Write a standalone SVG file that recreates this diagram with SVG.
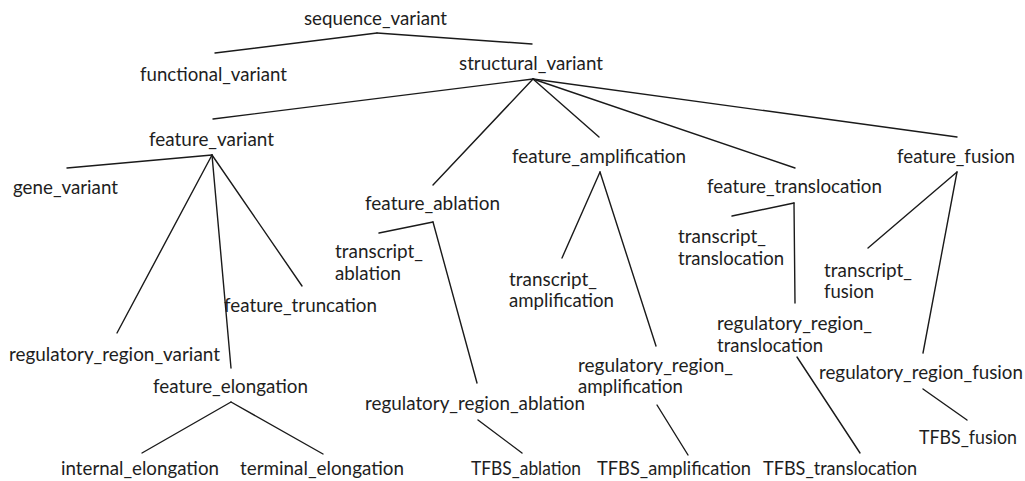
<svg xmlns="http://www.w3.org/2000/svg" width="1025" height="481" viewBox="0 0 1025 481">
<style>
text { font-family: Lato, "Open Sans", "Liberation Sans", sans-serif; font-size: 18.5px; fill: #1e1e1e; }
.edges line { stroke: #1a1a1a; stroke-width: 1.4; stroke-linecap: round; }
</style>
<rect width="1025" height="481" fill="#ffffff"/>
<g class="edges" id="connectors">
<line x1="377" y1="33" x2="215" y2="53"/>
<line x1="377" y1="33" x2="532" y2="44"/>
<line x1="533" y1="79" x2="213" y2="119"/>
<line x1="533" y1="79" x2="433" y2="185"/>
<line x1="533" y1="79" x2="599" y2="137"/>
<line x1="533" y1="79" x2="795" y2="168"/>
<line x1="533" y1="79" x2="957" y2="137"/>
<line x1="212" y1="155" x2="67" y2="168"/>
<line x1="212" y1="155" x2="117" y2="333"/>
<line x1="212" y1="155" x2="231" y2="368"/>
<line x1="212" y1="155" x2="302" y2="286"/>
<line x1="231" y1="402" x2="142" y2="453"/>
<line x1="231" y1="402" x2="323" y2="454"/>
<line x1="433" y1="222" x2="379" y2="233"/>
<line x1="433" y1="222" x2="477" y2="383"/>
<line x1="478" y1="420" x2="522" y2="453"/>
<line x1="600" y1="172" x2="562" y2="258"/>
<line x1="600" y1="172" x2="656" y2="346"/>
<line x1="657" y1="405" x2="688" y2="455"/>
<line x1="794" y1="203" x2="732" y2="216"/>
<line x1="794" y1="203" x2="795" y2="303"/>
<line x1="797" y1="357" x2="860" y2="453"/>
<line x1="957" y1="172" x2="868" y2="248"/>
<line x1="957" y1="172" x2="923" y2="353"/>
<line x1="923" y1="389" x2="967" y2="420"/>
</g>
<g id="sequence_variant"><text x="304" y="25" textLength="143" lengthAdjust="spacingAndGlyphs">sequence_variant</text></g>
<g id="functional_variant"><text x="140" y="81" textLength="147" lengthAdjust="spacingAndGlyphs">functional_variant</text></g>
<g id="structural_variant"><text x="459" y="70" textLength="144" lengthAdjust="spacingAndGlyphs">structural_variant</text></g>
<g id="feature_variant"><text x="149" y="146" textLength="125" lengthAdjust="spacingAndGlyphs">feature_variant</text></g>
<g id="gene_variant"><text x="13" y="194" textLength="105" lengthAdjust="spacingAndGlyphs">gene_variant</text></g>
<g id="feature_amplification"><text x="512" y="163" textLength="174" lengthAdjust="spacingAndGlyphs">feature_amplification</text></g>
<g id="feature_fusion"><text x="897" y="163" textLength="118" lengthAdjust="spacingAndGlyphs">feature_fusion</text></g>
<g id="feature_translocation"><text x="707" y="193" textLength="175" lengthAdjust="spacingAndGlyphs">feature_translocation</text></g>
<g id="feature_ablation"><text x="365" y="210" textLength="135" lengthAdjust="spacingAndGlyphs">feature_ablation</text></g>
<g id="transcript_ablation"><text x="335" y="258"><tspan x="335" textLength="88" lengthAdjust="spacingAndGlyphs">transcript_</tspan><tspan x="335" y="280" textLength="66" lengthAdjust="spacingAndGlyphs">ablation</tspan></text></g>
<g id="feature_truncation"><text x="224" y="312" textLength="153" lengthAdjust="spacingAndGlyphs">feature_truncation</text></g>
<g id="transcript_amplification"><text x="509" y="286"><tspan x="509" textLength="88" lengthAdjust="spacingAndGlyphs">transcript_</tspan><tspan x="509" y="307" textLength="105" lengthAdjust="spacingAndGlyphs">amplification</tspan></text></g>
<g id="transcript_translocation"><text x="678" y="243"><tspan x="678" textLength="88" lengthAdjust="spacingAndGlyphs">transcript_</tspan><tspan x="678" y="265" textLength="106" lengthAdjust="spacingAndGlyphs">translocation</tspan></text></g>
<g id="transcript_fusion"><text x="824" y="277"><tspan x="824" textLength="88" lengthAdjust="spacingAndGlyphs">transcript_</tspan><tspan x="824" y="298" textLength="50" lengthAdjust="spacingAndGlyphs">fusion</tspan></text></g>
<g id="regulatory_region_translocation"><text x="717" y="330"><tspan x="717" textLength="155" lengthAdjust="spacingAndGlyphs">regulatory_region_</tspan><tspan x="717" y="352" textLength="106" lengthAdjust="spacingAndGlyphs">translocation</tspan></text></g>
<g id="regulatory_region_variant"><text x="9" y="361" textLength="211" lengthAdjust="spacingAndGlyphs">regulatory_region_variant</text></g>
<g id="regulatory_region_amplification"><text x="578" y="372"><tspan x="578" textLength="155" lengthAdjust="spacingAndGlyphs">regulatory_region_</tspan><tspan x="578" y="393" textLength="105" lengthAdjust="spacingAndGlyphs">amplification</tspan></text></g>
<g id="regulatory_region_fusion"><text x="819" y="379" textLength="204" lengthAdjust="spacingAndGlyphs">regulatory_region_fusion</text></g>
<g id="feature_elongation"><text x="153" y="393" textLength="155" lengthAdjust="spacingAndGlyphs">feature_elongation</text></g>
<g id="regulatory_region_ablation"><text x="365" y="410" textLength="220" lengthAdjust="spacingAndGlyphs">regulatory_region_ablation</text></g>
<g id="TFBS_fusion"><text x="919" y="444" textLength="98" lengthAdjust="spacingAndGlyphs">TFBS_fusion</text></g>
<g id="internal_elongation"><text x="61" y="475" textLength="158" lengthAdjust="spacingAndGlyphs">internal_elongation</text></g>
<g id="terminal_elongation"><text x="240" y="475" textLength="164" lengthAdjust="spacingAndGlyphs">terminal_elongation</text></g>
<g id="TFBS_ablation"><text x="471" y="475" textLength="110" lengthAdjust="spacingAndGlyphs">TFBS_ablation</text></g>
<g id="TFBS_amplification"><text x="597" y="475" textLength="154" lengthAdjust="spacingAndGlyphs">TFBS_amplification</text></g>
<g id="TFBS_translocation"><text x="763" y="475" textLength="154" lengthAdjust="spacingAndGlyphs">TFBS_translocation</text></g>
</svg>
